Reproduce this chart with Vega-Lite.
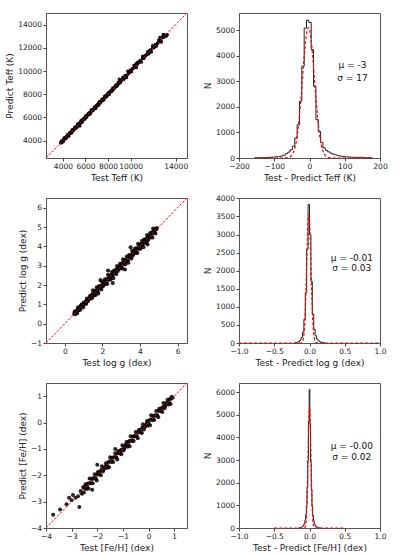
{
"$schema": "https://vega.github.io/schema/vega-lite/v6.json",
"padding": {"left": 5, "top": 10, "right": 5, "bottom": 5},
"background": "white",
"config": {
  "view": {"stroke": "#555", "strokeWidth": 1},
  "axis": {"labelFont": "DejaVu Sans", "labelFontSize": 7.5, "titleFont": "DejaVu Sans", "titleFontSize": 9, "titleFontWeight": "normal", "labelColor": "#222", "titleColor": "#222", "tickColor": "#444", "domainColor": "#555", "tickSize": 3, "labelPadding": 1.5, "titlePadding": 3, "grid": false, "labelFlush": false, "labelOverlap": false, "labelBound": false},
  "text": {"font": "DejaVu Sans"}
},
"datasets": {
  "teff_pts": [
    {"x":3800,"y":3800},{"x":3860,"y":3950},{"x":3920,"y":3845},{"x":3980,"y":4025},{"x":4040,"y":3920},{"x":4100,"y":4235},{"x":4160,"y":4130},{"x":4220,"y":4280},{"x":4280,"y":4190},{"x":4340,"y":4355},
    {"x":4400,"y":4505},{"x":4460,"y":4415},{"x":4520,"y":4385},{"x":4580,"y":4655},{"x":4640,"y":4625},{"x":4700,"y":4730},{"x":4760,"y":4655},{"x":4820,"y":4940},{"x":4880,"y":4820},{"x":4940,"y":4940},
    {"x":5000,"y":5000},{"x":5060,"y":5150},{"x":5120,"y":5045},{"x":5180,"y":5225},{"x":5240,"y":5120},{"x":5300,"y":5435},{"x":5360,"y":5330},{"x":5420,"y":5480},{"x":5480,"y":5390},{"x":5540,"y":5555},
    {"x":5600,"y":5705},{"x":5660,"y":5615},{"x":5720,"y":5585},{"x":5780,"y":5855},{"x":5840,"y":5825},{"x":5900,"y":5930},{"x":5960,"y":5855},{"x":6020,"y":6140},{"x":6080,"y":6020},{"x":6140,"y":6140},
    {"x":6200,"y":6200},{"x":6260,"y":6350},{"x":6320,"y":6245},{"x":6380,"y":6425},{"x":6440,"y":6320},{"x":6500,"y":6635},{"x":6560,"y":6530},{"x":6620,"y":6680},{"x":6680,"y":6590},{"x":6740,"y":6755},
    {"x":6800,"y":6905},{"x":6860,"y":6815},{"x":6920,"y":6785},{"x":6980,"y":7055},{"x":7040,"y":7025},{"x":7100,"y":7130},{"x":7160,"y":7055},{"x":7220,"y":7340},{"x":7280,"y":7220},{"x":7340,"y":7340},
    {"x":7400,"y":7400},{"x":7460,"y":7550},{"x":7520,"y":7445},{"x":7580,"y":7625},{"x":7640,"y":7520},{"x":7700,"y":7835},{"x":7760,"y":7730},{"x":7820,"y":7880},{"x":7880,"y":7790},{"x":7940,"y":7955},
    {"x":8000,"y":8105},{"x":8060,"y":8015},{"x":8120,"y":7985},{"x":8180,"y":8255},{"x":8240,"y":8225},{"x":8300,"y":8330},{"x":8360,"y":8255},{"x":8420,"y":8540},{"x":8480,"y":8420},{"x":8540,"y":8540},
    {"x":8600,"y":8600},{"x":8660,"y":8750},{"x":8720,"y":8645},{"x":8780,"y":8825},{"x":8840,"y":8720},{"x":8900,"y":9035},{"x":8960,"y":8930},{"x":9020,"y":9080},{"x":9080,"y":8990},{"x":9140,"y":9155},
    {"x":9200,"y":9200},{"x":9310,"y":9460},{"x":9420,"y":9295},{"x":9530,"y":9605},{"x":9640,"y":9440},{"x":9750,"y":9975},{"x":9860,"y":9810},{"x":9970,"y":10070},{"x":10080,"y":9930},{"x":10190,"y":10215},
    {"x":10300,"y":10475},{"x":10410,"y":10335},{"x":10520,"y":10295},{"x":10630,"y":10755},{"x":10740,"y":10715},{"x":10850,"y":10900},{"x":10960,"y":10785},{"x":11070,"y":11270},{"x":11180,"y":11080},{"x":11290,"y":11290},
    {"x":11400,"y":11400},{"x":11510,"y":11660},{"x":11620,"y":11495},{"x":11730,"y":11805},{"x":11840,"y":11640},{"x":11950,"y":12175},{"x":12060,"y":12010},{"x":12170,"y":12270},{"x":12280,"y":12130},{"x":12390,"y":12415},
    {"x":12500,"y":12675},{"x":12610,"y":12535},{"x":12720,"y":12495},{"x":12830,"y":12955},{"x":12940,"y":12915},{"x":13050,"y":13100},{"x":13160,"y":12985},
    {"x":12900,"y":13150},{"x":13250,"y":13120},{"x":12600,"y":12900},{"x":5500,"y":5250},{"x":9000,"y":9300},{"x":10500,"y":10650},
    {"x":3850,"y":3890},{"x":4000,"y":3970},{"x":4150,"y":4170},{"x":4300,"y":4250},{"x":4450,"y":4500},{"x":4600,"y":4580},{"x":4750,"y":4780},{"x":4900,"y":4860},{"x":5050,"y":5090},{"x":5200,"y":5170},
    {"x":5350,"y":5370},{"x":5500,"y":5450},{"x":5650,"y":5700},{"x":5800,"y":5780},{"x":5950,"y":5980},{"x":6100,"y":6060},{"x":6250,"y":6290},{"x":6400,"y":6370},{"x":6550,"y":6570},{"x":6700,"y":6650},
    {"x":6850,"y":6900},{"x":7000,"y":6980},{"x":7150,"y":7180},{"x":7300,"y":7260},{"x":7450,"y":7490},{"x":7600,"y":7570},{"x":7750,"y":7770},{"x":7900,"y":7850},{"x":8050,"y":8100},{"x":8200,"y":8180},
    {"x":8350,"y":8380},{"x":8500,"y":8460},{"x":8650,"y":8690},{"x":8800,"y":8770},{"x":8950,"y":8970},{"x":9100,"y":9050},{"x":9250,"y":9300},{"x":9400,"y":9380},{"x":9550,"y":9580},{"x":9700,"y":9660},
    {"x":9850,"y":9890},{"x":10000,"y":9970},{"x":10150,"y":10170},{"x":10300,"y":10250},{"x":10450,"y":10500},{"x":10600,"y":10580},{"x":10750,"y":10780},{"x":10900,"y":10860},{"x":11050,"y":11090},{"x":11200,"y":11170},
    {"x":11350,"y":11370},{"x":11500,"y":11450},{"x":11650,"y":11700},{"x":11800,"y":11780},{"x":11950,"y":11980},{"x":12100,"y":12060},{"x":12250,"y":12290},{"x":12400,"y":12370},{"x":12550,"y":12570},{"x":12700,"y":12650},
    {"x":12850,"y":12900}
  ],
  "teff_line": [{"x":2500,"y":2500},{"x":15000,"y":15000}],
  "teff_hist": [
    {"i":0,"x":-155.0,"n":0},{"i":1,"x":-155.0,"n":8},{"i":2,"x":-148.3,"n":10},{"i":3,"x":-141.7,"n":12},{"i":4,"x":-135.0,"n":15},{"i":5,"x":-128.4,"n":17},{"i":6,"x":-121.7,"n":20},{"i":7,"x":-115.0,"n":26},{"i":8,"x":-108.4,"n":32},{"i":9,"x":-101.7,"n":40},
    {"i":10,"x":-95.1,"n":45},{"i":11,"x":-88.4,"n":55},{"i":12,"x":-81.7,"n":80},{"i":13,"x":-75.1,"n":110},{"i":14,"x":-68.4,"n":170},{"i":15,"x":-61.8,"n":230},{"i":16,"x":-55.1,"n":320},{"i":17,"x":-48.4,"n":460},{"i":18,"x":-41.8,"n":780},{"i":19,"x":-35.1,"n":1300},
    {"i":20,"x":-28.5,"n":2220},{"i":21,"x":-21.8,"n":3590},{"i":22,"x":-15.1,"n":5080},{"i":23,"x":-8.5,"n":5390},{"i":24,"x":-1.8,"n":5300},{"i":25,"x":4.8,"n":4240},{"i":26,"x":11.5,"n":2800},{"i":27,"x":18.2,"n":1500},{"i":28,"x":24.8,"n":1040},{"i":29,"x":31.5,"n":600},
    {"i":30,"x":38.1,"n":400},{"i":31,"x":44.8,"n":300},{"i":32,"x":51.5,"n":240},{"i":33,"x":58.1,"n":190},{"i":34,"x":64.8,"n":150},{"i":35,"x":71.4,"n":120},{"i":36,"x":78.1,"n":95},{"i":37,"x":84.8,"n":75},{"i":38,"x":91.4,"n":60},{"i":39,"x":98.1,"n":50},
    {"i":40,"x":104.7,"n":42},{"i":41,"x":111.4,"n":35},{"i":42,"x":118.1,"n":30},{"i":43,"x":124.7,"n":25},{"i":44,"x":131.4,"n":22},{"i":45,"x":138.0,"n":20},{"i":46,"x":144.7,"n":28},{"i":47,"x":151.4,"n":15},{"i":48,"x":158.0,"n":12},{"i":49,"x":164.7,"n":10},
    {"i":50,"x":171.3,"n":8},{"i":51,"x":178.0,"n":0}
  ],
  "teff_fit": [
    {"x":-155,"n":0},{"x":-78,"n":0},{"x":-69,"n":2.7},{"x":-63,"n":10},{"x":-59,"n":22},{"x":-55,"n":47},{"x":-51,"n":95},{"x":-47,"n":179},{"x":-43,"n":320},{"x":-39,"n":542},
    {"x":-35,"n":868},{"x":-31,"n":1314},{"x":-27,"n":1883},{"x":-23,"n":2553},{"x":-19,"n":3275},{"x":-15,"n":3975},{"x":-11,"n":4566},{"x":-7,"n":4961},{"x":-3,"n":5100},{"x":1,"n":4961},
    {"x":5,"n":4566},{"x":9,"n":3975},{"x":13,"n":3275},{"x":17,"n":2553},{"x":21,"n":1883},{"x":25,"n":1314},{"x":29,"n":868},{"x":33,"n":542},{"x":37,"n":320},{"x":41,"n":179},
    {"x":45,"n":95},{"x":49,"n":47},{"x":53,"n":22},{"x":57,"n":10},{"x":63,"n":2.7},{"x":72,"n":0},{"x":178,"n":0}
  ],
  "teff_lab": [{"x":122,"y":3636,"t":"μ = -3"},{"x":122,"y":3128,"t":"σ = 17"}],
  "logg_pts": [
    {"x":0.50,"y":0.50},{"x":0.54,"y":0.63},{"x":0.58,"y":0.505},{"x":0.62,"y":0.665},{"x":0.66,"y":0.54},{"x":0.70,"y":0.835},{"x":0.74,"y":0.71},{"x":0.78,"y":0.84},{"x":0.82,"y":0.73},{"x":0.86,"y":0.875},
    {"x":0.90,"y":1.005},{"x":0.94,"y":0.895},{"x":0.98,"y":0.845},{"x":1.02,"y":1.095},{"x":1.06,"y":1.045},{"x":1.10,"y":1.13},{"x":1.14,"y":1.035},{"x":1.18,"y":1.30},{"x":1.22,"y":1.16},{"x":1.26,"y":1.26},
    {"x":1.30,"y":1.30},{"x":1.34,"y":1.43},{"x":1.38,"y":1.305},{"x":1.42,"y":1.465},{"x":1.46,"y":1.34},{"x":1.50,"y":1.725},{"x":1.54,"y":1.49},{"x":1.58,"y":1.68},{"x":1.62,"y":1.47},{"x":1.66,"y":1.685},
    {"x":1.70,"y":1.875},{"x":1.74,"y":1.665},{"x":1.78,"y":1.555},{"x":1.82,"y":1.945},{"x":1.86,"y":1.835},{"x":1.90,"y":1.95},{"x":1.94,"y":1.765},{"x":1.98,"y":2.18},{"x":2.02,"y":1.92},{"x":2.06,"y":2.06},
    {"x":2.10,"y":2.10},{"x":2.14,"y":2.29},{"x":2.18,"y":2.055},{"x":2.22,"y":2.295},{"x":2.26,"y":2.06},{"x":2.30,"y":2.525},{"x":2.34,"y":2.29},{"x":2.38,"y":2.48},{"x":2.42,"y":2.27},{"x":2.46,"y":2.485},
    {"x":2.50,"y":2.675},{"x":2.54,"y":2.465},{"x":2.58,"y":2.355},{"x":2.62,"y":2.745},{"x":2.66,"y":2.635},{"x":2.70,"y":2.75},{"x":2.74,"y":2.565},{"x":2.78,"y":2.98},{"x":2.82,"y":2.72},{"x":2.86,"y":2.86},
    {"x":2.90,"y":2.90},{"x":2.94,"y":3.09},{"x":2.98,"y":2.855},{"x":3.02,"y":3.095},{"x":3.06,"y":2.86},{"x":3.10,"y":3.325},{"x":3.14,"y":3.09},{"x":3.18,"y":3.28},{"x":3.22,"y":3.07},{"x":3.26,"y":3.285},
    {"x":3.30,"y":3.475},{"x":3.34,"y":3.265},{"x":3.38,"y":3.155},{"x":3.42,"y":3.545},{"x":3.46,"y":3.435},{"x":3.50,"y":3.55},{"x":3.54,"y":3.365},{"x":3.58,"y":3.78},{"x":3.62,"y":3.52},{"x":3.66,"y":3.66},
    {"x":3.70,"y":3.70},{"x":3.74,"y":3.89},{"x":3.78,"y":3.655},{"x":3.82,"y":3.895},{"x":3.86,"y":3.66},{"x":3.90,"y":4.125},{"x":3.94,"y":3.89},{"x":3.98,"y":4.08},{"x":4.02,"y":3.87},{"x":4.06,"y":4.085},
    {"x":4.10,"y":4.275},{"x":4.14,"y":4.065},{"x":4.18,"y":3.955},{"x":4.22,"y":4.345},{"x":4.26,"y":4.235},{"x":4.30,"y":4.35},{"x":4.34,"y":4.165},{"x":4.38,"y":4.58},{"x":4.42,"y":4.32},{"x":4.46,"y":4.46},
    {"x":4.50,"y":4.50},{"x":4.54,"y":4.69},{"x":4.58,"y":4.455},{"x":4.62,"y":4.695},{"x":4.66,"y":4.46},{"x":4.70,"y":4.925},{"x":4.74,"y":4.69},{"x":4.78,"y":4.88},{"x":4.82,"y":4.67},{"x":4.86,"y":4.885},
    {"x":4.90,"y":4.95},
    {"x":2.30,"y":2.75},{"x":3.20,"y":2.80},{"x":2.55,"y":2.10},{"x":1.90,"y":2.25},{"x":4.40,"y":4.10},{"x":3.50,"y":3.95},
    {"x":0.52,"y":0.57},{"x":0.60,"y":0.56},{"x":0.68,"y":0.70},{"x":0.76,"y":0.70},{"x":0.84,"y":0.91},{"x":0.92,"y":0.90},{"x":1.00,"y":1.03},{"x":1.08,"y":1.03},{"x":1.16,"y":1.21},{"x":1.24,"y":1.20},
    {"x":1.32,"y":1.34},{"x":1.40,"y":1.34},{"x":1.48,"y":1.55},{"x":1.56,"y":1.54},{"x":1.64,"y":1.67},{"x":1.72,"y":1.67},{"x":1.80,"y":1.85},{"x":1.88,"y":1.84},{"x":1.96,"y":1.98},{"x":2.04,"y":1.98},
    {"x":2.12,"y":2.19},{"x":2.20,"y":2.18},{"x":2.28,"y":2.31},{"x":2.36,"y":2.31},{"x":2.44,"y":2.49},{"x":2.52,"y":2.48},{"x":2.60,"y":2.62},{"x":2.68,"y":2.62},{"x":2.76,"y":2.83},{"x":2.84,"y":2.82},
    {"x":2.92,"y":2.95},{"x":3.00,"y":2.95},{"x":3.08,"y":3.13},{"x":3.16,"y":3.12},{"x":3.24,"y":3.26},{"x":3.32,"y":3.26},{"x":3.40,"y":3.47},{"x":3.48,"y":3.46},{"x":3.56,"y":3.59},{"x":3.64,"y":3.59},
    {"x":3.72,"y":3.77},{"x":3.80,"y":3.76},{"x":3.88,"y":3.90},{"x":3.96,"y":3.90},{"x":4.04,"y":4.11},{"x":4.12,"y":4.10},{"x":4.20,"y":4.23},{"x":4.28,"y":4.23},{"x":4.36,"y":4.41},{"x":4.44,"y":4.40},
    {"x":4.52,"y":4.54},{"x":4.60,"y":4.54},{"x":4.68,"y":4.75},{"x":4.76,"y":4.74},{"x":4.84,"y":4.87}
  ],
  "logg_line": [{"x":-1,"y":-1},{"x":6.5,"y":6.5}],
  "logg_hist": [
    {"i":0,"x":-0.22,"n":0},{"i":1,"x":-0.22,"n":5},{"i":2,"x":-0.20,"n":10},{"i":3,"x":-0.18,"n":20},{"i":4,"x":-0.16,"n":40},{"i":5,"x":-0.14,"n":80},{"i":6,"x":-0.12,"n":150},{"i":7,"x":-0.10,"n":300},{"i":8,"x":-0.08,"n":650},{"i":9,"x":-0.06,"n":1400},
    {"i":10,"x":-0.04,"n":2600},{"i":11,"x":-0.02,"n":3830},{"i":12,"x":0.00,"n":3000},{"i":13,"x":0.02,"n":1700},{"i":14,"x":0.04,"n":800},{"i":15,"x":0.06,"n":380},{"i":16,"x":0.08,"n":200},{"i":17,"x":0.10,"n":110},{"i":18,"x":0.12,"n":60},{"i":19,"x":0.14,"n":35},
    {"i":20,"x":0.16,"n":20},{"i":21,"x":0.18,"n":10},{"i":22,"x":0.20,"n":5},{"i":23,"x":0.22,"n":0}
  ],
  "logg_fit": [
    {"x":-1,"n":0},{"x":-0.16,"n":0},{"x":-0.13,"n":1.2},{"x":-0.11,"n":14},{"x":-0.10,"n":40},{"x":-0.09,"n":102},{"x":-0.08,"n":234},{"x":-0.07,"n":482},{"x":-0.06,"n":889},{"x":-0.05,"n":1466},
    {"x":-0.04,"n":2162},{"x":-0.03,"n":2855},{"x":-0.02,"n":3372},{"x":-0.01,"n":3565},{"x":0.00,"n":3372},{"x":0.01,"n":2855},{"x":0.02,"n":2162},{"x":0.03,"n":1466},{"x":0.04,"n":889},{"x":0.05,"n":482},
    {"x":0.06,"n":234},{"x":0.07,"n":102},{"x":0.08,"n":40},{"x":0.09,"n":14},{"x":0.11,"n":1.2},{"x":0.14,"n":0},{"x":1,"n":0}
  ],
  "logg_lab": [{"x":0.60,"y":2351,"t":"μ = -0.01"},{"x":0.60,"y":2075,"t":"σ = 0.03"}],
  "feh_pts": [
    {"x":-2.50,"y":-2.50},{"x":-2.46,"y":-2.34},{"x":-2.42,"y":-2.52},{"x":-2.38,"y":-2.32},{"x":-2.34,"y":-2.50},{"x":-2.30,"y":-2.12},{"x":-2.26,"y":-2.30},{"x":-2.22,"y":-2.14},{"x":-2.18,"y":-2.30},{"x":-2.14,"y":-2.12},
    {"x":-2.10,"y":-1.96},{"x":-2.06,"y":-2.12},{"x":-2.02,"y":-2.20},{"x":-1.98,"y":-1.88},{"x":-1.94,"y":-1.96},{"x":-1.90,"y":-1.86},{"x":-1.86,"y":-2.00},{"x":-1.82,"y":-1.66},{"x":-1.78,"y":-1.86},{"x":-1.74,"y":-1.74},
    {"x":-1.70,"y":-1.70},{"x":-1.66,"y":-1.54},{"x":-1.62,"y":-1.72},{"x":-1.58,"y":-1.52},{"x":-1.54,"y":-1.70},{"x":-1.50,"y":-1.32},{"x":-1.46,"y":-1.50},{"x":-1.42,"y":-1.34},{"x":-1.38,"y":-1.50},{"x":-1.34,"y":-1.32},
    {"x":-1.30,"y":-1.16},{"x":-1.26,"y":-1.32},{"x":-1.22,"y":-1.40},{"x":-1.18,"y":-1.08},{"x":-1.14,"y":-1.16},{"x":-1.10,"y":-1.06},{"x":-1.06,"y":-1.20},{"x":-1.02,"y":-0.86},{"x":-0.98,"y":-1.06},{"x":-0.94,"y":-0.94},
    {"x":-0.90,"y":-0.90},{"x":-0.86,"y":-0.74},{"x":-0.82,"y":-0.92},{"x":-0.78,"y":-0.72},{"x":-0.74,"y":-0.90},{"x":-0.70,"y":-0.52},{"x":-0.66,"y":-0.70},{"x":-0.62,"y":-0.54},{"x":-0.58,"y":-0.70},{"x":-0.54,"y":-0.52},
    {"x":-0.50,"y":-0.36},{"x":-0.46,"y":-0.52},{"x":-0.42,"y":-0.60},{"x":-0.38,"y":-0.28},{"x":-0.34,"y":-0.36},{"x":-0.30,"y":-0.26},{"x":-0.26,"y":-0.40},{"x":-0.22,"y":-0.06},{"x":-0.18,"y":-0.26},{"x":-0.14,"y":-0.14},
    {"x":-0.10,"y":-0.10},{"x":-0.06,"y":0.06},{"x":-0.02,"y":-0.12},{"x":0.02,"y":0.08},{"x":0.06,"y":-0.10},{"x":0.10,"y":0.28},{"x":0.14,"y":0.10},{"x":0.18,"y":0.26},{"x":0.22,"y":0.10},{"x":0.26,"y":0.28},
    {"x":0.30,"y":0.44},{"x":0.34,"y":0.28},{"x":0.38,"y":0.20},{"x":0.42,"y":0.52},{"x":0.46,"y":0.44},{"x":0.50,"y":0.54},{"x":0.54,"y":0.40},{"x":0.58,"y":0.74},{"x":0.62,"y":0.54},{"x":0.66,"y":0.66},
    {"x":0.70,"y":0.70},{"x":0.74,"y":0.86},{"x":0.78,"y":0.68},{"x":0.82,"y":0.88},{"x":0.86,"y":0.70},{"x":0.90,"y":0.98},{"x":0.94,"y":0.94},
    {"x":-3.72,"y":-3.50},{"x":-3.45,"y":-3.30},{"x":-3.20,"y":-3.10},{"x":-3.00,"y":-2.95},{"x":-2.95,"y":-2.75},{"x":-2.85,"y":-2.85},{"x":-2.75,"y":-2.80},{"x":-2.70,"y":-3.20},{"x":-2.65,"y":-2.60},{"x":-2.60,"y":-2.70},
    {"x":-2.55,"y":-2.45},{"x":-2.52,"y":-2.65},{"x":-3.10,"y":-2.85},{"x":-2.00,"y":-1.60},{"x":-1.30,"y":-1.00},{"x":-2.20,"y":-2.55},
    {"x":-2.48,"y":-2.44},{"x":-2.40,"y":-2.43},{"x":-2.32,"y":-2.30},{"x":-2.24,"y":-2.29},{"x":-2.16,"y":-2.11},{"x":-2.08,"y":-2.10},{"x":-2.00,"y":-1.97},{"x":-1.92,"y":-1.96},{"x":-1.84,"y":-1.80},{"x":-1.76,"y":-1.79},
    {"x":-1.68,"y":-1.66},{"x":-1.60,"y":-1.65},{"x":-1.52,"y":-1.47},{"x":-1.44,"y":-1.46},{"x":-1.36,"y":-1.33},{"x":-1.28,"y":-1.32},{"x":-1.20,"y":-1.16},{"x":-1.12,"y":-1.15},{"x":-1.04,"y":-1.02},{"x":-0.96,"y":-1.01},
    {"x":-0.88,"y":-0.83},{"x":-0.80,"y":-0.82},{"x":-0.72,"y":-0.69},{"x":-0.64,"y":-0.68},{"x":-0.56,"y":-0.52},{"x":-0.48,"y":-0.51},{"x":-0.40,"y":-0.38},{"x":-0.32,"y":-0.37},{"x":-0.24,"y":-0.19},{"x":-0.16,"y":-0.18},
    {"x":-0.08,"y":-0.05},{"x":0.00,"y":-0.04},{"x":0.08,"y":0.12},{"x":0.16,"y":0.13},{"x":0.24,"y":0.26},{"x":0.32,"y":0.27},{"x":0.40,"y":0.45},{"x":0.48,"y":0.46},{"x":0.56,"y":0.59},{"x":0.64,"y":0.60},
    {"x":0.72,"y":0.76},{"x":0.80,"y":0.77},{"x":0.88,"y":0.90}
  ],
  "feh_line": [{"x":-4,"y":-4},{"x":1.5,"y":1.5}],
  "feh_hist": [
    {"i":0,"x":-0.155,"n":0},{"i":1,"x":-0.155,"n":5},{"i":2,"x":-0.145,"n":10},{"i":3,"x":-0.135,"n":15},{"i":4,"x":-0.125,"n":25},{"i":5,"x":-0.115,"n":40},{"i":6,"x":-0.105,"n":60},{"i":7,"x":-0.095,"n":90},{"i":8,"x":-0.085,"n":140},{"i":9,"x":-0.075,"n":220},
    {"i":10,"x":-0.065,"n":360},{"i":11,"x":-0.055,"n":600},{"i":12,"x":-0.045,"n":1000},{"i":13,"x":-0.035,"n":1800},{"i":14,"x":-0.025,"n":3000},{"i":15,"x":-0.015,"n":4700},{"i":16,"x":-0.005,"n":6120},{"i":17,"x":0.005,"n":4600},{"i":18,"x":0.015,"n":2900},{"i":19,"x":0.025,"n":1700},
    {"i":20,"x":0.035,"n":950},{"i":21,"x":0.045,"n":560},{"i":22,"x":0.055,"n":340},{"i":23,"x":0.065,"n":210},{"i":24,"x":0.075,"n":130},{"i":25,"x":0.085,"n":85},{"i":26,"x":0.095,"n":55},{"i":27,"x":0.105,"n":38},{"i":28,"x":0.115,"n":24},{"i":29,"x":0.125,"n":14},
    {"i":30,"x":0.135,"n":9},{"i":31,"x":0.145,"n":5},{"i":32,"x":0.155,"n":0}
  ],
  "feh_fit": [
    {"x":-0.5,"n":0},{"x":-0.1,"n":0},{"x":-0.08,"n":1.8},{"x":-0.07,"n":12},{"x":-0.06,"n":60},{"x":-0.05,"n":236},{"x":-0.045,"n":428},{"x":-0.04,"n":728},{"x":-0.035,"n":1165},{"x":-0.03,"n":1747},
    {"x":-0.025,"n":2463},{"x":-0.02,"n":3263},{"x":-0.015,"n":4061},{"x":-0.01,"n":4748},{"x":-0.005,"n":5214},{"x":0,"n":5380},{"x":0.005,"n":5214},{"x":0.01,"n":4748},{"x":0.015,"n":4061},{"x":0.02,"n":3263},
    {"x":0.025,"n":2463},{"x":0.03,"n":1747},{"x":0.035,"n":1165},{"x":0.04,"n":728},{"x":0.045,"n":428},{"x":0.05,"n":236},{"x":0.06,"n":60},{"x":0.07,"n":12},{"x":0.08,"n":1.8},{"x":0.1,"n":0},{"x":0.5,"n":0}
  ],
  "feh_lab": [{"x":0.60,"y":3606,"t":"μ = -0.00"},{"x":0.60,"y":3121,"t":"σ = 0.02"}]
},
"concat": [
  {"width": 141, "height": 145, "layer": [
    {"data": {"name": "teff_pts"}, "mark": {"type": "circle", "size": 12, "color": "black", "opacity": 0.95},
     "encoding": {
       "x": {"field": "x", "type": "quantitative", "scale": {"domain": [2500, 15000], "nice": false, "zero": false}, "axis": {"values": [4000, 6000, 8000, 10000, 14000], "tickCount": 30, "format": "d", "labelOverlap": false, "title": "Test  Teff (K)"}},
       "y": {"field": "y", "type": "quantitative", "scale": {"domain": [2500, 15000], "nice": false, "zero": false}, "axis": {"values": [4000, 6000, 8000, 10000, 12000, 14000], "tickCount": 30, "format": "d", "labelOverlap": false, "title": "Predict Teff (K)"}}}},
    {"data": {"name": "teff_line"}, "mark": {"type": "line", "color": "red", "strokeDash": [2.5, 1.5], "strokeWidth": 1},
     "encoding": {"x": {"field": "x", "type": "quantitative"}, "y": {"field": "y", "type": "quantitative"}}}
  ]},
  {"width": 141, "height": 145, "layer": [
    {"data": {"name": "teff_hist"}, "mark": {"type": "line", "interpolate": "step-after", "color": "#222", "strokeWidth": 1},
     "encoding": {
       "x": {"field": "x", "type": "quantitative", "scale": {"domain": [-200, 200], "nice": false, "zero": false}, "axis": {"values": [-200, -100, 0, 100, 200], "tickCount": 30, "format": "d", "labelOverlap": false, "title": "Test - Predict Teff (K)"}},
       "y": {"field": "n", "type": "quantitative", "scale": {"domain": [0, 5670], "nice": false}, "axis": {"values": [0, 1000, 2000, 3000, 4000, 5000], "tickCount": 30, "format": "d", "labelOverlap": false, "title": "N"}},
       "order": {"field": "i", "type": "quantitative"}}},
    {"data": {"name": "teff_fit"}, "mark": {"type": "line", "interpolate": "monotone", "color": "red", "strokeDash": [3, 2], "strokeWidth": 1.2},
     "encoding": {"x": {"field": "x", "type": "quantitative"}, "y": {"field": "n", "type": "quantitative"}}},
    {"data": {"name": "teff_lab"}, "mark": {"type": "text", "fontSize": 9, "align": "center", "color": "#111"},
     "encoding": {"x": {"field": "x", "type": "quantitative"}, "y": {"field": "y", "type": "quantitative"}, "text": {"field": "t"}}}
  ]},
  {"width": 141, "height": 145, "layer": [
    {"data": {"name": "logg_pts"}, "mark": {"type": "circle", "size": 17, "color": "black", "opacity": 0.85},
     "encoding": {
       "x": {"field": "x", "type": "quantitative", "scale": {"domain": [-1, 6.5], "nice": false, "zero": false}, "axis": {"values": [0, 2, 4, 6], "tickCount": 30, "format": "d", "labelOverlap": false, "title": "Test log g (dex)"}},
       "y": {"field": "y", "type": "quantitative", "scale": {"domain": [-1, 6.5], "nice": false, "zero": false}, "axis": {"values": [-1, 0, 1, 2, 3, 4, 5, 6], "tickCount": 30, "format": "d", "labelOverlap": false, "title": "Predict log g (dex)"}}}},
    {"data": {"name": "logg_line"}, "mark": {"type": "line", "color": "red", "strokeDash": [2.5, 1.5], "strokeWidth": 1},
     "encoding": {"x": {"field": "x", "type": "quantitative"}, "y": {"field": "y", "type": "quantitative"}}}
  ]},
  {"width": 141, "height": 145, "layer": [
    {"data": {"name": "logg_hist"}, "mark": {"type": "line", "interpolate": "step-after", "color": "#222", "strokeWidth": 1},
     "encoding": {
       "x": {"field": "x", "type": "quantitative", "scale": {"domain": [-1, 1], "nice": false, "zero": false}, "axis": {"values": [-1, -0.5, 0, 0.5, 1], "tickCount": 30, "format": ".1f", "labelOverlap": false, "title": "Test - Predict log g (dex)"}},
       "y": {"field": "n", "type": "quantitative", "scale": {"domain": [0, 4010], "nice": false}, "axis": {"values": [0, 500, 1000, 1500, 2000, 2500, 3000, 3500, 4000], "tickCount": 30, "format": "d", "labelOverlap": false, "title": "N"}},
       "order": {"field": "i", "type": "quantitative"}}},
    {"data": {"name": "logg_fit"}, "mark": {"type": "line", "interpolate": "monotone", "color": "red", "strokeDash": [3, 2], "strokeWidth": 1.2},
     "encoding": {"x": {"field": "x", "type": "quantitative"}, "y": {"field": "n", "type": "quantitative"}}},
    {"data": {"name": "logg_lab"}, "mark": {"type": "text", "fontSize": 9, "align": "center", "color": "#111"},
     "encoding": {"x": {"field": "x", "type": "quantitative"}, "y": {"field": "y", "type": "quantitative"}, "text": {"field": "t"}}}
  ]},
  {"width": 141, "height": 145, "layer": [
    {"data": {"name": "feh_pts"}, "mark": {"type": "circle", "size": 16, "color": "black", "opacity": 0.85},
     "encoding": {
       "x": {"field": "x", "type": "quantitative", "scale": {"domain": [-4, 1.5], "nice": false, "zero": false}, "axis": {"values": [-4, -3, -2, -1, 0, 1], "tickCount": 30, "format": "d", "labelOverlap": false, "title": "Test [Fe/H] (dex)"}},
       "y": {"field": "y", "type": "quantitative", "scale": {"domain": [-4, 1.5], "nice": false, "zero": false}, "axis": {"values": [-4, -3, -2, -1, 0, 1], "tickCount": 30, "format": "d", "labelOverlap": false, "title": "Predict [Fe/H] (dex)"}}}},
    {"data": {"name": "feh_line"}, "mark": {"type": "line", "color": "red", "strokeDash": [2.5, 1.5], "strokeWidth": 1},
     "encoding": {"x": {"field": "x", "type": "quantitative"}, "y": {"field": "y", "type": "quantitative"}}}
  ]},
  {"width": 141, "height": 145, "layer": [
    {"data": {"name": "feh_hist"}, "mark": {"type": "line", "interpolate": "step-after", "color": "#222", "strokeWidth": 1},
     "encoding": {
       "x": {"field": "x", "type": "quantitative", "scale": {"domain": [-1, 1], "nice": false, "zero": false}, "axis": {"values": [-1, -0.5, 0, 0.5, 1], "tickCount": 30, "format": ".1f", "labelOverlap": false, "title": "Test - Predict [Fe/H] (dex)"}},
       "y": {"field": "n", "type": "quantitative", "scale": {"domain": [0, 6400], "nice": false}, "axis": {"values": [0, 1000, 2000, 3000, 4000, 5000, 6000], "tickCount": 30, "format": "d", "labelOverlap": false, "title": "N"}},
       "order": {"field": "i", "type": "quantitative"}}},
    {"data": {"name": "feh_fit"}, "mark": {"type": "line", "interpolate": "monotone", "color": "red", "strokeDash": [3, 2], "strokeWidth": 1.2},
     "encoding": {"x": {"field": "x", "type": "quantitative"}, "y": {"field": "n", "type": "quantitative"}}},
    {"data": {"name": "feh_lab"}, "mark": {"type": "text", "fontSize": 9, "align": "center", "color": "#111"},
     "encoding": {"x": {"field": "x", "type": "quantitative"}, "y": {"field": "y", "type": "quantitative"}, "text": {"field": "t"}}}
  ]}
],
"columns": 2,
"spacing": {"row": 40, "column": 52},
"bounds": "flush"
}
